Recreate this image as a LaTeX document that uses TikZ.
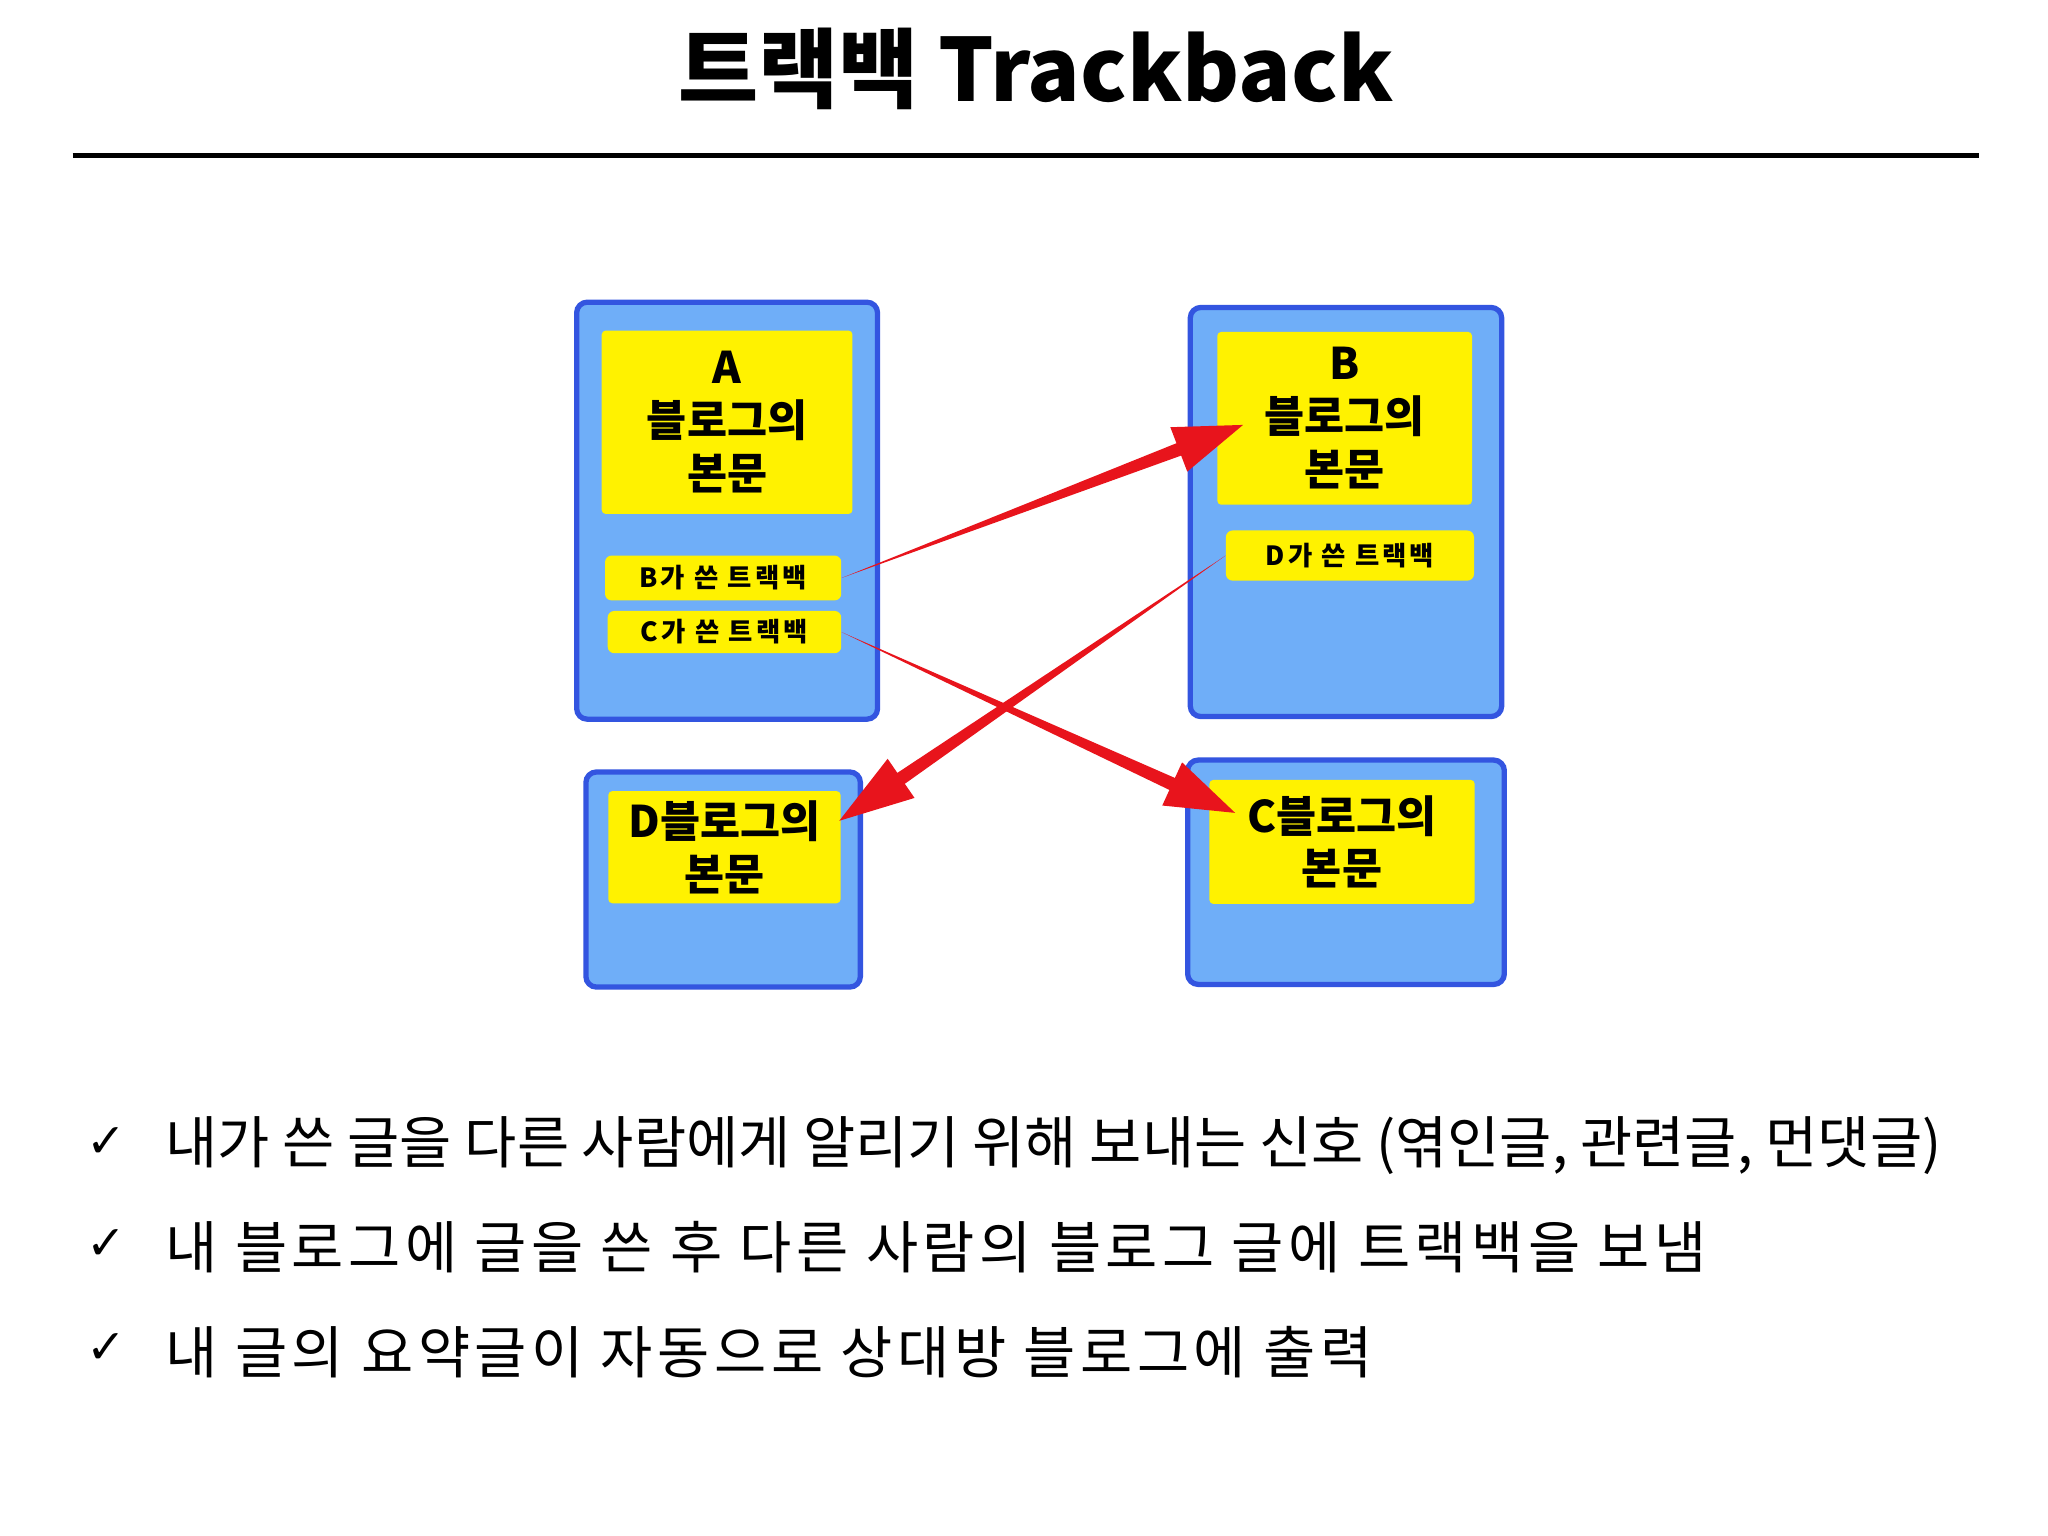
\documentclass[tikz,border=0pt]{standalone}
\usepackage{fontspec}
\setmainfont{Noto Sans CJK KR}
\newfontfamily\dejavu{DejaVu Sans}
\newfontfamily\spaced[LetterSpace=8]{Noto Sans CJK KR}
\newfontfamily\spacedb[LetterSpace=12]{Noto Sans CJK KR}
\usetikzlibrary{calc}
\definecolor{bluefill}{HTML}{6FAEF8}
\definecolor{blueline}{HTML}{3355E0}
\definecolor{yel}{HTML}{FFF200}
\definecolor{arr}{HTML}{E8141C}
\tikzset{
 blog/.style={draw=blueline,fill=bluefill,line width=4pt,rounded corners=8pt},
 yb/.style={fill=yel,draw=none,rounded corners=3pt,font=\fontsize{33}{40}\selectfont\bfseries,align=center,inner sep=0pt},
 tb/.style={fill=yel,draw=none,rounded corners=5pt,font=\fontsize{20}{24}\selectfont\spacedb\bfseries,inner sep=0pt},
 bul/.style={anchor=west,font=\fontsize{43}{50}\selectfont},
}
\newcommand{\taper}[2]{%
 \path let \p1=(#1), \p2=(#2) in coordinate (m) at ($(\p1)!0.84!(\p2)$);
 \fill[arr] (#1) -- ($(m)!5pt!90:(#2)$) -- ($(m)!18pt!90:(#2)$) -- (#2) -- ($(m)!18pt!-90:(#2)$) -- ($(m)!5pt!-90:(#2)$) -- cycle;}
\begin{document}
\begin{tikzpicture}[x=1pt,y=-1pt]
\useasboundingbox (0,0) rectangle (1552,1164);
\fill[white] (0,0) rectangle (1552,1164);
\node[font=\fontsize{66}{70}\selectfont\bfseries] (title) at (785,52) {트랙백 Trackback};
\draw[line width=4pt] (55,118) coordinate (l1) -- (1500,118) coordinate (l2);
% boxes
\draw[blog] (437,229) rectangle (665,545);
\node[yb,minimum width=190pt,minimum height=139pt] (Ay) at (551,320) {A\\블로그의\\본문};
\node[tb,minimum width=179pt,minimum height=34pt] (Ab) at (548,438) {B가 쓴 트랙백};
\node[tb,minimum width=177pt,minimum height=32pt] (Ac) at (549,479) {C가 쓴 트랙백};
\draw[blog] (902,233) rectangle (1138,543);
\node[yb,minimum width=193pt,minimum height=131pt] (By) at (1019,317) {B\\블로그의\\본문};
\node[tb,minimum width=188pt,minimum height=38pt] (Bd) at (1023,421) {D가 쓴 트랙백};
\draw[blog] (444,585) rectangle (652,748);
\node[yb,minimum width=176pt,minimum height=85pt] (Dy) at (549,642) {D블로그의\\본문};
\draw[blog] (900,576) rectangle (1140,746);
\node[yb,minimum width=201pt,minimum height=94pt] (Cy) at (1017,638) {C블로그의\\본문};
% arrows
\coordinate (b2) at (942,322);
\coordinate (c2) at (936,616);
\coordinate (d2) at (636,622);
\taper{Ab.east}{b2}
\taper{Ac.east}{c2}
\taper{Bd.west}{d2}
% bullets
\node[bul,font=\fontsize{36}{40}\selectfont\dejavu\bfseries] (k1) at (62,866) {✓};
\node[bul,font=\fontsize{36}{40}\selectfont\dejavu\bfseries] (k2) at (62,943) {✓};
\node[bul,font=\fontsize{36}{40}\selectfont\dejavu\bfseries] (k3) at (62,1022) {✓};
\node[bul] (t1) at (122,868) {내가 쓴 글을 다른 사람에게 알리기 위해 보내는 신호 (엮인글, 관련글, 먼댓글)};
\node[bul,font=\fontsize{43}{50}\selectfont\spaced] (t2) at (122,945) {내 블로그에 글을 쓴 후 다른 사람의 블로그 글에 트랙백을 보냄};
\node[bul,font=\fontsize{43}{50}\selectfont\spaced] (t3) at (122,1025) {내 글의 요약글이 자동으로 상대방 블로그에 출력};
\end{tikzpicture}
\end{document}
